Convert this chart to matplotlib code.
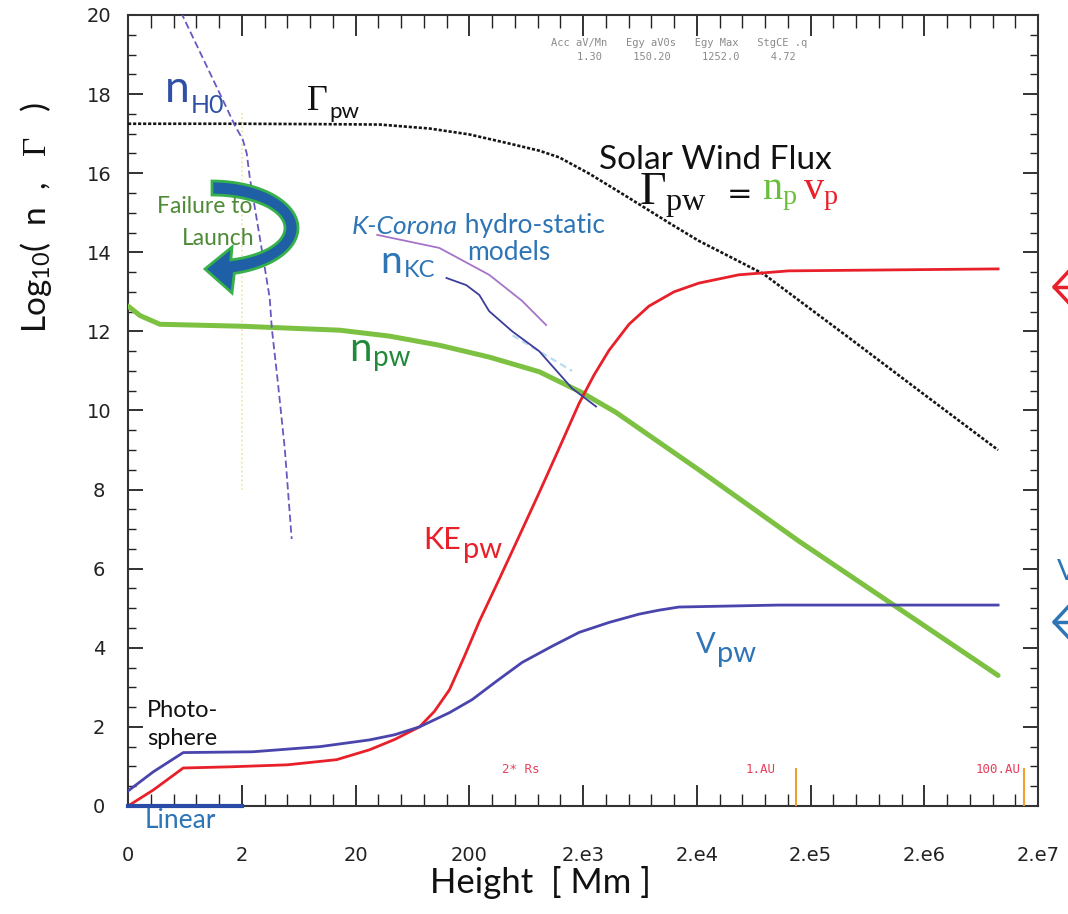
import numpy as np
import matplotlib
matplotlib.use("Agg")
import matplotlib.pyplot as plt
from matplotlib.patches import Polygon
from matplotlib.lines import Line2D

plt.rcParams['mathtext.fontset'] = 'custom'
plt.rcParams['mathtext.rm'] = 'Liberation Serif'
plt.rcParams['mathtext.it'] = 'Liberation Serif:italic'
plt.rcParams['mathtext.sf'] = 'Lato'

# heights in Mm, values are log10
gamma_h = [0, 2, 10, 32.5, 89, 200, 448, 822, 1233, 2260, 4140, 12060, 2.08e4, 7.74e4,
           4.3e5, 1.96e6, 8.9e6]
gamma_v = [17.25, 17.25, 17.24, 17.23, 17.13, 16.98, 16.75, 16.57, 16.4, 15.99, 15.53, 14.7,
           14.29, 13.45, 11.85, 10.42, 9.0]

npw_h = [0, 0.21, 0.56, 2, 14.5, 39.7, 109, 299, 822, 1960, 3900, 2.08e4, 1.57e5, 8.9e6]
npw_v = [12.64, 12.4, 12.18, 12.13, 12.03, 11.88, 11.65, 11.35, 10.98, 10.45, 9.95, 8.5, 6.7, 3.3]

ke_h = [0, 0.44, 0.97, 1.8, 5, 13.6, 26.5, 44, 73, 98.6, 134, 181, 245, 367, 550, 822, 1230,
        1845, 2500, 3380, 5070, 7600, 1.26e4, 2.08e4, 4.67e4, 1.28e5, 8.9e6]
ke_v = [0, 0.4, 0.96, 0.99, 1.04, 1.17, 1.42, 1.68, 2.0, 2.39, 2.94, 3.78, 4.67, 5.74, 6.83,
        7.92, 9.04, 10.18, 10.9, 11.52, 12.18, 12.64, 13.0, 13.22, 13.43, 13.53, 13.58]

vpw_h = [0, 0.44, 0.97, 2.5, 9.7, 26.5, 44, 73, 134, 212, 345, 583, 1070, 1850, 3380, 6200,
         9290, 1.39e4, 1.05e5, 8.9e6]
vpw_v = [0.38, 0.86, 1.35, 1.37, 1.5, 1.67, 1.8, 2.0, 2.36, 2.69, 3.15, 3.63, 4.04, 4.39, 4.64,
         4.85, 4.95, 5.03, 5.08, 5.08]

nh0_h = [0.93, 1.67, 1.88, 2.04, 2.21, 2.35, 2.88, 3.52, 3.67, 4.14, 4.77, 5.49]
nh0_v = [20.07, 17.84, 17.2, 16.85, 16.5, 15.89, 14.37, 12.84, 12.08, 10.74, 9.04, 6.75]

# K-Corona hydrostatic models
kc1_h = [31, 109, 299, 583, 947]
kc1_v = [14.44, 14.11, 13.43, 12.77, 12.16]
kc2_h = [126, 188, 245, 299, 477, 822, 1600, 2600]
kc2_v = [13.35, 13.17, 12.92, 12.51, 12.0, 11.5, 10.56, 10.1]
kc3_h = [480, 1600]
kc3_v = [11.9, 11.0]

AU_MM = 1.496e5
au_marks = [1, 100]

x_ticks = [0, 2, 20, 200, 2e3, 2e4, 2e5, 2e6, 2e7]
x_labels = ['0', '2', '20', '200', '2.e3', '2.e4', '2.e5', '2.e6', '2.e7']

BLUE_TXT = '#2e75b6'

fig = plt.figure(figsize=(10.68, 9.14), dpi=100)
ax = fig.add_axes([0.1199, 0.1182, 0.8521, 0.8654])
ax.set_xscale('symlog', linthresh=2, linscale=0.9)
ax.set_xlim(0, 2e7)
ax.set_ylim(0, 20)

# faint marker of the linear/log boundary
ax.plot([2, 2], [8.0, 17.6], color='#efe4a0', lw=1.2, ls=':')

ax.plot(npw_h, npw_v, color='#7dc142', lw=3.6, solid_capstyle='round', zorder=3)
ax.plot(gamma_h, gamma_v, color='#151515', lw=1.9, ls=(0, (1.2, 0.7)), zorder=4)
ax.plot(ke_h, ke_v, color='#e8202a', lw=2.0, zorder=4)
ax.plot(vpw_h, vpw_v, color='#4a44ad', lw=2.0, zorder=4)
ax.plot(nh0_h, nh0_v, color='#6a58c0', lw=1.3, ls=(0, (4, 2)), zorder=4)
ax.plot(kc1_h, kc1_v, color='#a574c8', lw=1.3, zorder=4)
ax.plot(kc2_h, kc2_v, color='#3c3c9c', lw=1.3, zorder=4)
ax.plot(kc3_h, kc3_v, color='#b5dcf2', lw=1.6, ls=(0, (3, 2)), zorder=3)

# orbit markers
ax.vlines([m * AU_MM for m in au_marks], 0, 0.95, color='#f0a030', lw=1.5, zorder=5)
ax.plot([0, 2], [0, 0], color='#2a4aa8', lw=3, clip_on=False, zorder=6)

# ticks
minor = [0.4, 0.8, 1.2, 1.6] + [2 * 10 ** (k + j / 5) for k in range(7) for j in range(1, 5)]
ax.set_xticks(x_ticks)
ax.set_xticklabels(x_labels)
ax.set_xticks(minor, minor=True)
ax.set_yticks(np.arange(0, 21, 2))
ax.set_yticks(np.arange(0, 20.01, 0.5), minor=True)
ax.tick_params(which='both', direction='in', top=True, right=True, colors='#222222')
ax.tick_params(axis='x', which='major', length=15, width=1.3, labelsize=14, pad=29)
ax.tick_params(axis='x', which='minor', length=9, width=1.0)
ax.tick_params(axis='y', which='major', length=11, width=1.3, labelsize=14, pad=21)
ax.tick_params(axis='y', which='minor', length=6, width=1.0)
for lbl in ax.get_yticklabels():
    lbl.set_ha('center')
for sp in ax.spines.values():
    sp.set_linewidth(1.5)
    sp.set_color('#333333')


def sub_label(x, y, main, sub, color, size, subsize, dy, family='Lato', sub_family=None):
    t = ax.text(x, y, main, color=color, fontsize=size, family=family,
                ha='left', va='baseline', zorder=7)
    ax.annotate(sub, xy=(1, 0), xycoords=t, xytext=(1, dy), textcoords='offset points',
                color=color, fontsize=subsize, family=sub_family or family,
                ha='left', va='baseline', zorder=7)
    return t


sub_label(0.65, 17.8, 'n', 'H0', '#3050a8', 32, 18, -2.5)
sub_label(7.4, 17.6, r'$\Gamma$', 'pw', '#111111', 26, 16, -1.5)
sub_label(33, 13.48, 'n', 'KC', BLUE_TXT, 28, 17, 1.7)
sub_label(17.7, 11.24, 'n', 'pw', '#218a3a', 29, 20, 1.9)
sub_label(79, 6.5, 'KE', 'pw', '#e8202a', 22, 21, -3)
sub_label(1.96e4, 3.88, 'V', 'pw', BLUE_TXT, 21, 21, -3.2)

ax.text(2760, 16.1, 'Solar Wind Flux', fontsize=24, family='Lato', color='#111111')
ax.text(6200, 15.2, r'$\Gamma_{\mathrm{pw}}$', fontsize=33, color='#111111')
ax.text(3.7e4, 15.45, '=', fontsize=22, family='DejaVu Sans', color='#111111', va='center')
ax.text(7.5e4, 15.33, r'$\mathrm{n}_{\mathrm{p}}$', fontsize=29, color='#6abf3a')
ax.text(1.73e5, 15.33, r'$\mathrm{v}_{\mathrm{p}}$', fontsize=29, color='#e8202a')

t_kc = ax.text(18.5, 14.47, 'K-Corona', fontsize=19, family='Lato', style='italic',
               color=BLUE_TXT, va='baseline')
ax.annotate(' hydro-static', xy=(1, 0), xycoords=t_kc, fontsize=19, family='Lato',
            color=BLUE_TXT, va='bottom', ha='left')
ax.text(191, 13.8, 'models', fontsize=19, family='Lato', color=BLUE_TXT)

ax.text(0.33, 2.26, 'Photo-', fontsize=17, family='Lato', color='#111111')
ax.text(0.33, 1.55, 'sphere', fontsize=17, family='Lato', color='#111111')
ax.text(0.30, -0.56, 'Linear', fontsize=19, family='Lato', color=BLUE_TXT, clip_on=False)

# model marker labels
ax.text(572, 0.91, '2* Rs', fontsize=9, family='DejaVu Sans Mono', color='#e8405a',
        ha='center', va='center')
ax.text(7.3e4, 0.91, '1.AU', fontsize=9, family='DejaVu Sans Mono', color='#e8405a',
        ha='center', va='center')
ax.text(8.9e6, 0.91, '100.AU', fontsize=9, family='DejaVu Sans Mono', color='#e8405a',
        ha='center', va='center')

# run parameters printed on the original plot
ax.text(1.39e4, 19.3, 'Acc aV/Mn   Egy aV0s   Egy Max   StgCE .q', fontsize=7.5,
        family='DejaVu Sans Mono', color='#8a8a8a', ha='center', va='center')
ax.text(1.63e4, 18.93, '1.30     150.20     1252.0     4.72', fontsize=7.5,
        family='DejaVu Sans Mono', color='#8a8a8a', ha='center', va='center')

# "Failure to Launch" curved arrow (built in reference pixels, y down)
W, H = 1068.0, 914.0
cx, cy = 212.0, 228.0
t_in = np.radians(np.linspace(90, -75, 60))
t_out = t_in[::-1]
inner = [(cx + 73 * np.cos(t), cy - 33 * np.sin(t)) for t in t_in]
outer = [(cx + 86 * np.cos(t), cy - 47 * np.sin(t)) for t in t_out]
head = [(232, 247), (205, 269), (232, 293)]
pts = inner + head + outer
pts = [(px / W, 1 - py / H) for px, py in pts]
ax.add_patch(Polygon(pts, closed=True, transform=fig.transFigure, facecolor='#1f5fa5',
                     edgecolor='#36b04a', lw=2, zorder=6))

ax.text(0.51, 15.0, 'Failure to', fontsize=16.5, family='Lato', color='#4e8a38', zorder=8)
ax.text(0.95, 14.19, 'Launch', fontsize=16.5, family='Lato', color='#4e8a38', zorder=8)

# axis labels
fig.text(540 / W, 1 - 893 / H, 'Height  [ Mm ]', fontsize=25, family='Lato',
         color='#111111', ha='center', va='baseline')
fig.text(36 / W, 1 - 218 / H, r'Log$_{\mathsf{10}}$(  n  ,   $\Gamma$   )', fontsize=24,
         family='Lato', color='#111111', rotation=90, ha='center', va='center')

# cut-off markers at the right edge
for py, col in [(287, '#e8202a'), (622, BLUE_TXT)]:
    xs = [1068, 1054, 1068]
    ys = [py - 15, py, py + 15]
    fig.add_artist(Line2D([x / W for x in xs], [1 - y / H for y in ys], color=col, lw=2.5,
                          transform=fig.transFigure))
    fig.add_artist(Line2D([1054 / W, 1.0], [1 - py / H] * 2, color=col, lw=2.5,
                          transform=fig.transFigure))
fig.text(1057 / W, 1 - 580 / H, 'V', fontsize=21, family='Lato', color=BLUE_TXT)

fig.savefig('out.png', dpi=100)
